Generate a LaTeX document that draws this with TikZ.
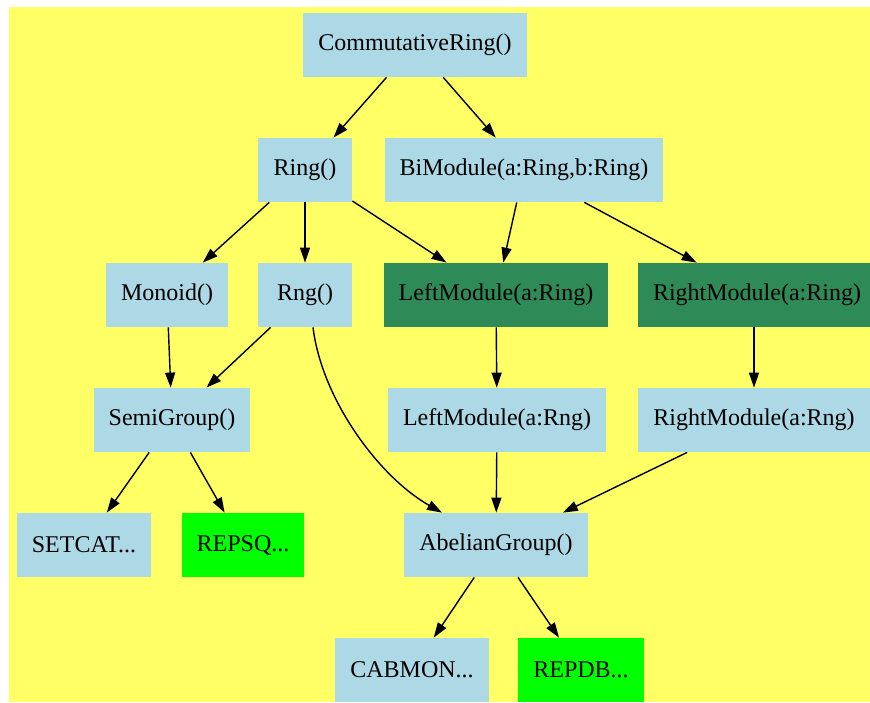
\documentclass[tikz,border=0pt]{standalone}
\usepackage{fontspec}
\setmainfont{Liberation Serif}
\usepackage{xcolor}
\usepackage{tikz}
\usetikzlibrary{arrows.meta,positioning,calc}

\definecolor{bgyellow}{RGB}{255,255,102}
\definecolor{catblue}{RGB}{173,216,230}
\definecolor{modgreen}{RGB}{46,139,87}
\definecolor{repgreen}{RGB}{0,255,0}

\begin{document}
\begin{tikzpicture}[x=0.5pt,y=-0.5pt,font=\fontsize{12}{14}\selectfont,
  catbox/.style={rectangle,fill=catblue,inner xsep=7.5pt,inner ysep=0pt,minimum width=47pt,minimum height=32pt},
  modbox/.style={catbox,fill=modgreen},
  repbox/.style={catbox,fill=repgreen},
  dep/.style={line width=0.7pt,-{Triangle[length=7.5pt,width=5pt]}}]
\useasboundingbox (0,0) rectangle (870,702);
\fill[bgyellow] (9,7) rectangle (870,702);
% categories, row by row
\node[catbox] (comm) at (415,45) {CommutativeRing()};
\node[catbox] (ring) at (305,170) {Ring()};
\node[catbox] (bimod) at (524,170) {BiModule(a:Ring,b:Ring)};
\node[catbox] (monoid) at (167,295) {Monoid()};
\node[catbox] (rng) at (305,295) {Rng()};
\node[modbox] (lmring) at (496,295) {LeftModule(a:Ring)};
\node[modbox] (rmring) at (757,295) {RightModule(a:Ring)};
\node[catbox] (semig) at (172,420) {SemiGroup()};
\node[catbox] (lmrng) at (497,420) {LeftModule(a:Rng)};
\node[catbox] (rmrng) at (754,420) {RightModule(a:Rng)};
\node[catbox] (setcat) at (84,545) {SETCAT...};
\node[repbox] (repsq) at (243,545) {REPSQ...};
\node[catbox] (abel) at (496,545) {AbelianGroup()};
\node[catbox] (cabmon) at (412,670) {CABMON...};
\node[repbox] (repdb) at (581,670) {REPDB...};
% edges
\draw[dep] (comm) -- (ring);
\draw[dep] (comm) -- (bimod);
\draw[dep] (ring) -- (monoid);
\draw[dep] (ring) -- (rng);
\draw[dep] (ring) -- (lmring);
\draw[dep] (bimod) -- (lmring);
\draw[dep] (bimod) -- (rmring);
\draw[dep] (monoid) -- (semig);
\draw[dep] (rng) -- (semig);
\draw[dep] ($(rng.south)+(8,0)$) .. controls +(9,73) and +(-62,-35) .. ($(abel.north)+(-54,0)$);
\draw[dep] (lmring) -- (lmrng);
\draw[dep] (rmring.south-|rmrng) -- (rmrng);
\draw[dep] (semig) -- (setcat);
\draw[dep] (semig) -- (repsq);
\draw[dep] (lmrng) -- (abel);
\draw[dep] (rmrng) -- (abel);
\draw[dep] (abel) -- (cabmon);
\draw[dep] (abel) -- (repdb);
\end{tikzpicture}
\end{document}
